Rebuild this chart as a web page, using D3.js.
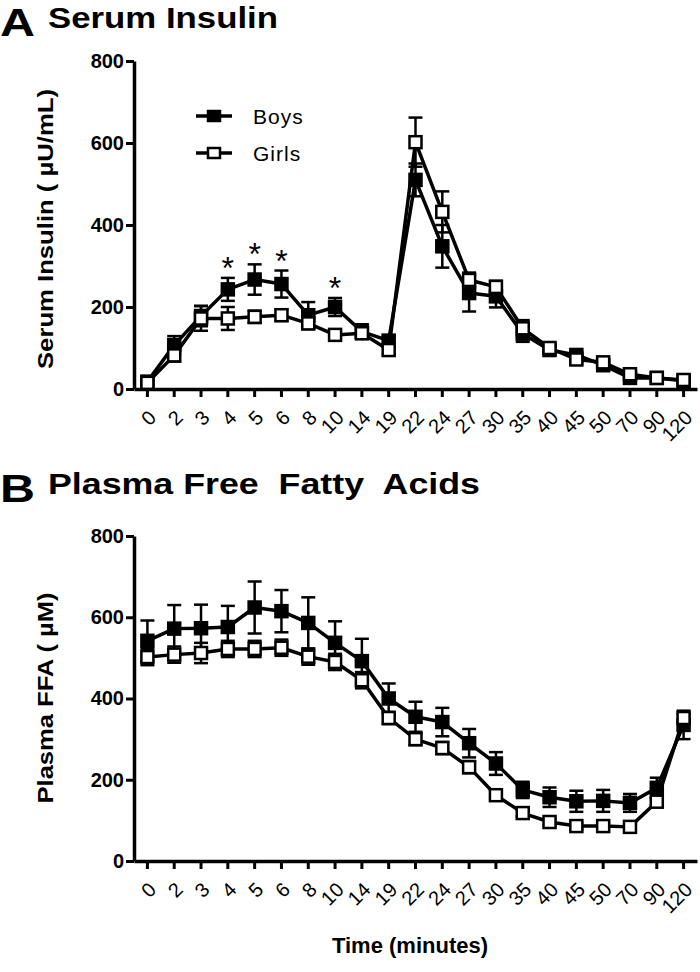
<!DOCTYPE html>
<html><head><meta charset="utf-8">
<script src="https://cdn.jsdelivr.net/npm/d3@7"></script>
<style>body{margin:0;background:#fff}</style>
</head><body><svg id="c" width="700" height="972"></svg>
<script>
const times = ["0","2","3","4","5","6","8","10","14","19","22","24","27","30","35","40","45","50","70","90","120"];
const yTicks = [0,200,400,600,800];

const insulinBoys   = [18,107,178,243,267,256,180,200,140,118,510,348,234,226,135,95,83,58,27,27,20];
const insulinBoysSE = [6,22,25,28,37,33,32,22,18,10,40,52,45,27,20,10,8,8,6,5,4];
const insulinGirls  = [15,82,172,172,176,180,160,132,136,95,602,432,266,249,148,100,72,65,36,27,22];
const insulinGirlsSE= [5,15,30,28,15,14,14,10,10,10,60,50,18,15,20,10,10,8,6,5,4];
const insulinStars  = ["4","5","6","10"];

const ffaBoys   = [542,572,573,576,624,615,586,537,492,400,355,342,290,240,175,157,147,148,143,180,335];
const ffaBoysSE = [50,58,58,52,64,52,63,53,55,37,37,35,35,28,20,24,26,27,22,25,35];
const ffaGirls  = [502,508,512,522,522,525,503,490,445,352,300,278,231,162,118,96,86,86,84,146,352];
const ffaGirlsSE= [20,20,25,20,20,20,20,20,20,15,15,15,15,10,8,8,8,8,8,10,10];

const seriesNames = ["Boys","Girls"];

const svg = d3.select("#c");
const FONT = "'Liberation Sans', Arial, Helvetica, sans-serif";

function panel(cfg) {
  const x = d3.scaleBand().domain(times).range([134, 697]);
  const cx = t => x(t) + x.bandwidth()/2;
  const y = d3.scaleLinear().domain([0, 800]).range([cfg.y0, cfg.y800]);
  const g = svg.append("g");

  // title
  g.append("text").attr("x", 0).attr("y", cfg.titleY + 8)
    .attr("textLength", 35).attr("lengthAdjust", "spacingAndGlyphs")
    .style("font", `bold 38px ${FONT}`).text(cfg.letter);
  g.append("text").attr("x", 48).attr("y", cfg.titleY)
    .attr("textLength", cfg.titleLen).attr("lengthAdjust", "spacingAndGlyphs")
    .style("font", `bold 30px ${FONT}`).style("white-space","pre").text(cfg.title);

  // y axis
  const ya = g.append("g").attr("transform", "translate(134,0)")
    .call(d3.axisLeft(y).tickValues(yTicks).tickSize(8).tickSizeOuter(0).tickPadding(2).tickFormat(d3.format("d")));
  ya.select(".domain").attr("stroke", "#000").attr("stroke-width", 3.5);
  ya.selectAll(".tick line").attr("stroke", "#000").attr("stroke-width", 3);
  ya.selectAll(".tick text").style("font", `bold 20px ${FONT}`).attr("fill", "#000");

  // x axis
  const xa = g.append("g").attr("transform", `translate(0,${cfg.y0})`)
    .call(d3.axisBottom(x).tickSize(8).tickSizeOuter(0));
  xa.select(".domain").attr("stroke", "#000").attr("stroke-width", 3.5);
  xa.selectAll(".tick line").attr("stroke", "#000").attr("stroke-width", 3);
  xa.selectAll(".tick text").attr("y", null).attr("dy", "0.35em")
    .attr("text-anchor", "end").attr("transform", "translate(5,25) rotate(-45)")
    .style("font", `20px ${FONT}`).attr("fill", "#000");

  // y label
  g.append("text").attr("transform", `translate(53,${cfg.labelY}) rotate(-90)`)
    .attr("text-anchor", "middle").attr("textLength", cfg.labelLen).attr("lengthAdjust", "spacingAndGlyphs")
    .style("font", `bold 22px ${FONT}`).text(cfg.ylabel);

  const line = d3.line().x((d, i) => cx(times[i])).y(d => y(d));
  const series = [
    {name: "Boys", v: cfg.boys, se: cfg.boysSE, fill: "#000"},
    {name: "Girls", v: cfg.girls, se: cfg.girlsSE, fill: "#fff"}
  ];
  series.forEach(s => {
    const sg = g.append("g");
    s.v.forEach((v, i) => {
      const xx = cx(times[i]);
      const top = y(v + s.se[i]), bot = y(v - s.se[i]);
      sg.append("line").attr("x1", xx).attr("x2", xx).attr("y1", top).attr("y2", bot)
        .attr("stroke", "#000").attr("stroke-width", 2.5);
      [top, bot].forEach(yy => sg.append("line").attr("x1", xx - 7).attr("x2", xx + 7)
        .attr("y1", yy).attr("y2", yy).attr("stroke", "#000").attr("stroke-width", 2.5));
    });
    sg.append("path").datum(s.v).attr("d", line).attr("fill", "none")
      .attr("stroke", "#000").attr("stroke-width", 3.5).attr("stroke-linejoin", "round");
    sg.selectAll("rect").data(s.v).join("rect")
      .attr("x", (d, i) => cx(times[i]) - 6).attr("y", d => y(d) - 6)
      .attr("width", 12).attr("height", 12)
      .attr("fill", s.fill).attr("stroke", "#000").attr("stroke-width", 2.5);
  });

  // significance stars
  (cfg.stars || []).forEach(t => {
    const i = times.indexOf(t);
    g.append("text").attr("x", cx(t)).attr("y", y(cfg.boys[i] + cfg.boysSE[i]) + 1)
      .attr("text-anchor", "middle").style("font", `32px ${FONT}`).text("*");
  });

  // legend
  if (cfg.legend) {
    seriesNames.forEach((n, k) => {
      const ly = 116 + k * 37;
      g.append("line").attr("x1", 196).attr("x2", 232).attr("y1", ly).attr("y2", ly)
        .attr("stroke", "#000").attr("stroke-width", 3.5);
      g.append("rect").attr("x", 208).attr("y", ly - 5).attr("width", 12).attr("height", 10)
        .attr("fill", k === 0 ? "#000" : "#fff").attr("stroke", "#000").attr("stroke-width", 2.5);
      g.append("text").attr("x", 253).attr("y", ly + 8)
        .style("font", `21px ${FONT}`).style("letter-spacing", "1px").text(n);
    });
  }
}

panel({letter: "A", title: "Serum Insulin", titleLen: 230, titleY: 28, y0: 389, y800: 61,
  ylabel: "Serum Insulin ( \u00b5U/mL)", labelY: 229, labelLen: 280,
  boys: insulinBoys, boysSE: insulinBoysSE, girls: insulinGirls, girlsSE: insulinGirlsSE,
  stars: insulinStars, legend: true});

panel({letter: "B", title: "Plasma Free  Fatty  Acids", titleLen: 432, titleY: 494, y0: 861, y800: 536,
  ylabel: "Plasma FFA ( \u00b5M)", labelY: 698, labelLen: 211,
  boys: ffaBoys, boysSE: ffaBoysSE, girls: ffaGirls, girlsSE: ffaGirlsSE,
  stars: [], legend: false});

svg.append("text").attr("x", 410).attr("y", 953).attr("text-anchor", "middle")
  .style("font", `bold 22px ${FONT}`).text("Time (minutes)");
</script></body></html>
